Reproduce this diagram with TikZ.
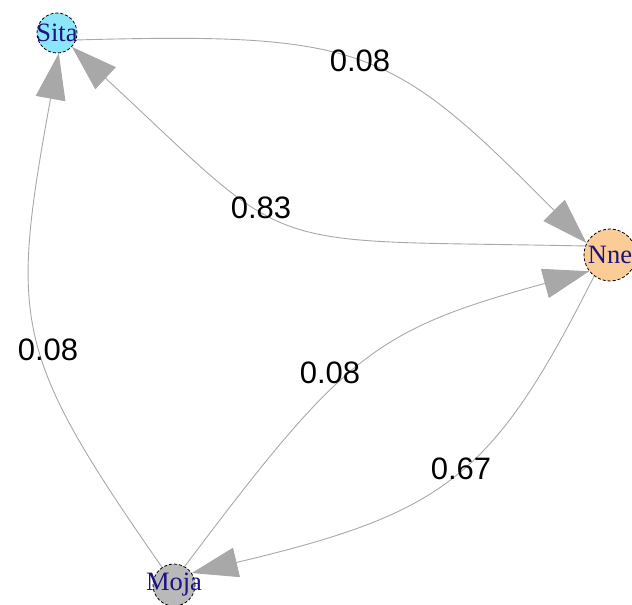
\documentclass[tikz,border=0pt]{standalone}
\usepackage{fontspec}
\setmainfont{Liberation Serif}
\newfontfamily\weightfont{Liberation Sans}
\usetikzlibrary{arrows.meta}
\definecolor{sitafill}{RGB}{140,230,250}
\definecolor{nnefill}{RGB}{252,204,150}
\definecolor{mojafill}{RGB}{185,185,185}
\definecolor{vlabel}{RGB}{28,18,128}
\definecolor{edgegray}{RGB}{168,168,168}
\begin{document}
\begin{tikzpicture}[x=1pt,y=-1pt,
  vertex/.style={circle, draw=black, densely dashed, line width=0.8pt, inner sep=0pt},
  vname/.style={text=vlabel, inner sep=0pt, font=\fontsize{26.5}{26.5}\selectfont},
  link/.style={draw=edgegray, line width=0.9pt,
    -{Triangle[length=46pt,width=30pt,fill=edgegray]}},
  weight/.style={font=\weightfont\fontsize{31}{31}\selectfont, text=black, inner sep=0pt}]
\useasboundingbox (0,0) rectangle (632,605);

% vertices
\node[vertex, fill=sitafill, minimum size=40pt, label={[vname]center:Sita}] (sita) at (57,33) {};
\node[vertex, fill=nnefill, minimum size=52pt, label={[vname]center:Nne}] (nne) at (610,255) {};
\node[vertex, fill=mojafill, minimum size=42pt, label={[vname]center:Moja}] (moja) at (174,585) {};

% weighted edges
\draw[link] (sita.-20) .. controls (365,32) and (392,47) .. (nne.153);
\draw[link] (nne.160) .. controls (250,239) and (300,259) .. (sita.-43);
\draw[link] (moja.124) .. controls (12,352) and (10,322) .. (sita.-85);
\draw[link] (moja.60) .. controls (345,353) and (375,330) .. (nne.218);
\draw[link] (nne.233) .. controls (493,477) and (445,513) .. (moja.34);

% edge weights
\node[weight] (w1) at (360,61) {0.08};
\node[weight] (w2) at (261,208) {0.83};
\node[weight] (w3) at (48,350) {0.08};
\node[weight] (w4) at (330,373) {0.08};
\node[weight] (w5) at (461,469) {0.67};
\end{tikzpicture}
\end{document}
